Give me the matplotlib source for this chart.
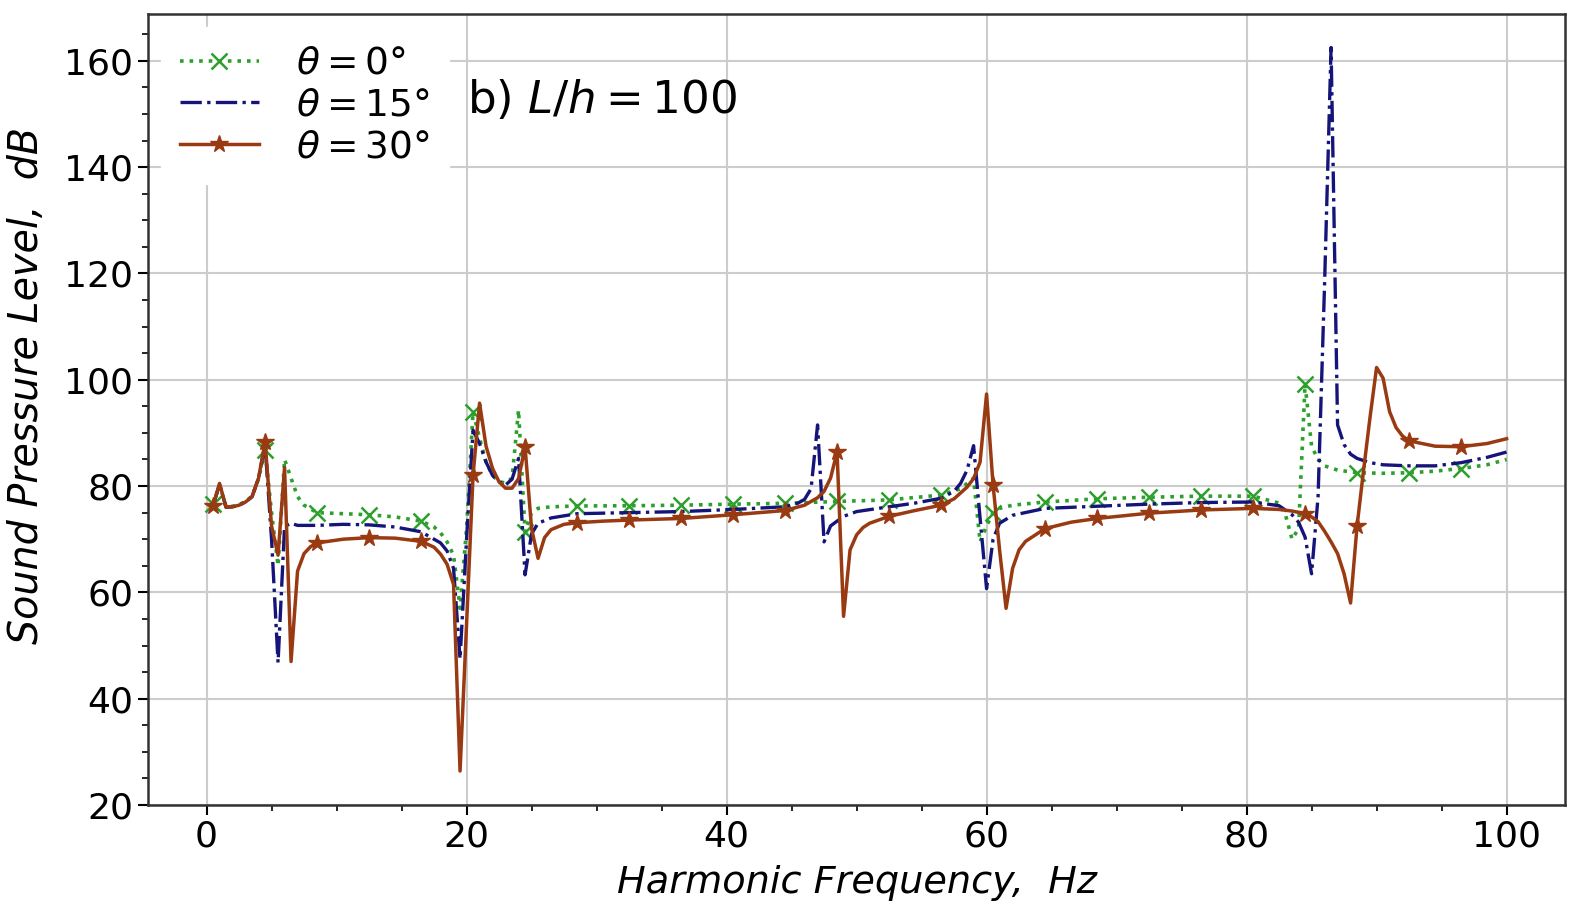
import numpy as np
import matplotlib
matplotlib.use("Agg")
import matplotlib.pyplot as plt
from matplotlib.ticker import AutoMinorLocator, MultipleLocator

# theta = 0 deg
freq_0 = [0.5, 1.0, 1.5, 2.0, 2.5, 3.0, 3.5, 4.0, 4.5, 5.0, 5.5, 6.0, 6.5, 7.0, 7.5,
          8.5, 10.5, 12.5, 14.5, 16.5, 17.5, 18.0, 18.5, 19.0, 19.5, 20.0, 20.5,
          21.0, 21.5, 22.0, 22.5, 23.0, 23.5, 24.0, 24.5, 25.0, 25.5, 26.5, 28.5,
          32.5, 36.5, 40.5, 44.5, 48.5, 52.5, 56.5, 58.0, 59.0, 59.5, 60.0, 60.5,
          61.0, 62.0, 64.5, 68.5, 72.5, 76.5, 80.5, 82.5, 83.0, 83.5, 84.0, 84.5,
          85.0, 85.5, 86.0, 87.0, 88.5, 90.5, 92.5, 94.5, 96.5, 98.5, 100.0]
spl_0 = [76.6, 80.2, 76.1, 76.2, 76.5, 77.1, 78.1, 81.3, 86.8, 75.0, 65.0, 85.0, 81.5, 78.0, 76.4,
         75.0, 74.8, 74.6, 74.2, 73.4, 72.3, 71.2, 69.5, 67.0, 57.0, 72.0, 94.0,
         89.0, 84.5, 82.0, 80.8, 80.6, 81.5, 94.3, 71.4, 75.0, 75.8, 76.1, 76.25,
         76.3, 76.4, 76.6, 76.75, 77.1, 77.4, 78.3, 79.5, 81.5, 69.5, 72.5, 75.0,
         75.8, 76.4, 77.0, 77.6, 77.9, 78.1, 78.1, 76.8, 74.5, 70.0, 72.0, 99.2,
         87.5, 85.0, 83.8, 83.0, 82.5, 82.4, 82.5, 82.8, 83.3, 84.0, 85.0]

# theta = 15 deg
freq_15 = [0.5, 1.0, 1.5, 2.0, 2.5, 3.0, 3.5, 4.0, 4.5, 5.0, 5.5, 6.0, 6.5, 7.0,
           8.5, 10.5, 12.5, 14.5, 16.5, 17.5, 18.0, 18.5, 19.0, 19.5, 20.0, 20.5,
           21.0, 21.5, 22.0, 22.5, 23.0, 23.5, 24.0, 24.5, 25.0, 25.5, 26.5, 28.5,
           32.5, 36.5, 40.5, 44.5, 45.5, 46.0, 46.5, 47.0, 47.5, 48.0, 49.0, 50.0,
           52.5, 54.5, 56.5, 57.5, 58.0, 58.5, 59.0, 59.5, 60.0, 60.5, 61.0, 62.0,
           64.5, 68.5, 72.5, 76.5, 80.5, 82.5, 83.5, 84.0, 84.5, 85.0, 85.5, 86.0,
           86.5, 87.0, 87.5, 88.0, 88.5, 89.5, 90.5, 92.5, 94.5, 96.5, 98.5, 100.0]
spl_15 = [76.3, 80.4, 76.0, 76.1, 76.4, 77.0, 78.0, 81.5, 87.8, 70.0, 46.8, 72.4, 73.0, 72.6,
          72.6, 72.8, 72.7, 72.3, 71.4, 70.0, 69.3, 67.8, 64.5, 47.5, 70.0, 90.5,
          88.0, 84.5, 82.0, 80.8, 80.2, 81.3, 85.2, 63.3, 71.0, 73.0, 74.0, 74.8,
          75.0, 75.2, 75.6, 76.1, 76.8, 77.5, 79.5, 91.5, 69.5, 72.5, 74.3, 75.2,
          76.1, 76.8, 77.7, 79.0, 80.5, 83.0, 87.6, 74.0, 60.7, 70.0, 73.0, 74.5,
          75.8, 76.2, 76.6, 76.9, 77.0, 76.3, 74.6, 73.2, 70.4, 63.5, 78.0, 118.0,
          162.5, 91.5, 87.8, 86.0, 85.2, 84.4, 84.0, 83.8, 83.8, 84.4, 85.4, 86.4]

# theta = 30 deg
freq_30 = [0.5, 1.0, 1.5, 2.0, 2.5, 3.0, 3.5, 4.0, 4.5, 5.0, 5.5, 6.0, 6.5, 7.0, 7.5,
           8.0, 8.5, 10.5, 12.5, 14.5, 16.5, 17.5, 18.0, 18.5, 19.0, 19.5, 20.0,
           20.5, 21.0, 21.5, 22.0, 22.5, 23.0, 23.5, 24.0, 24.5, 25.0, 25.5, 26.0,
           26.5, 27.5, 28.5, 30.5, 32.5, 36.5, 40.5, 44.5, 46.0, 47.0, 47.5, 48.0,
           48.5, 49.0, 49.5, 50.0, 50.5, 51.0, 52.5, 54.5, 56.5, 57.5, 58.5, 59.0,
           59.5, 60.0, 60.5, 61.0, 61.5, 62.0, 62.5, 63.0, 64.5, 66.5, 68.5, 72.5,
           76.5, 80.5, 82.5, 83.5, 84.5, 85.0, 85.5, 86.0, 86.5, 87.0, 87.5, 88.0,
           88.5, 89.0, 89.5, 90.0, 90.5, 91.0, 91.5, 92.0, 92.5, 94.5, 96.5, 98.5, 100.0]
spl_30 = [76.2, 80.5, 76.0, 76.1, 76.4, 77.0, 78.0, 81.5, 88.3, 72.5, 67.0, 83.5, 47.0, 64.0, 67.3,
          68.6, 69.3, 70.0, 70.3, 70.2, 69.6, 68.5, 67.2, 65.3, 61.5, 26.4, 54.0,
          82.0, 95.6, 87.5, 83.3, 80.8, 79.6, 79.6, 81.4, 87.4, 72.0, 66.4, 70.3,
          71.8, 72.8, 73.1, 73.4, 73.6, 73.9, 74.6, 75.4, 76.4, 77.8, 79.0, 81.5,
          86.4, 55.5, 68.0, 70.8, 72.2, 73.0, 74.3, 75.4, 76.4, 77.6, 79.8, 81.4,
          84.5, 97.3, 80.2, 68.0, 57.0, 64.5, 68.0, 69.6, 72.0, 73.2, 73.9, 74.9,
          75.5, 75.8, 75.6, 75.3, 74.8, 74.2, 73.3, 71.5, 69.5, 67.3, 63.5, 58.0,
          72.5, 83.0, 93.0, 102.3, 100.3, 94.0, 91.0, 89.4, 88.5, 87.5, 87.4, 88.0, 88.9]

marker_freqs = [0.5 + 4 * k for k in range(25)]
labels = [r"$\theta = 0\degree$", r"$\theta = 15\degree$", r"$\theta = 30\degree$"]

fig = plt.figure(figsize=(15.75, 9.09), dpi=100)
ax = fig.add_axes([0.094, 0.1144, 0.8997, 0.8702])

mk0 = list(np.where(np.isin(freq_0, marker_freqs))[0])
mk30 = list(np.where(np.isin(freq_30, marker_freqs))[0])

ax.plot(freq_0, spl_0, ls=":", color="#2ca02c", lw=2.6, marker="x", ms=11, mew=1.8,
        markevery=mk0, label=labels[0])
ax.plot(freq_15, spl_15, ls="-.", color="#14147a", lw=2.4, label=labels[1])
ax.plot(freq_30, spl_30, ls="-", color="#993a12", lw=2.5, marker="*", ms=13,
        markevery=mk30, label=labels[2])

ax.set_xlim(-4.5, 104.5)
ax.set_ylim(20, 168.8)
ax.xaxis.set_major_locator(MultipleLocator(20))
ax.yaxis.set_major_locator(MultipleLocator(20))
ax.xaxis.set_minor_locator(AutoMinorLocator(4))
ax.yaxis.set_minor_locator(AutoMinorLocator(4))
ax.grid(True, which="major", color="#cccccc", lw=1.5)
ax.set_axisbelow(True)
ax.tick_params(which="major", labelsize=26, length=7, width=1.5)
ax.tick_params(which="minor", length=4, width=1.2)
for s in ax.spines.values():
    s.set_linewidth(1.8)
    s.set_color("#333333")

ax.set_xlabel("Harmonic Frequency,  Hz", fontsize=27.5, style="italic", labelpad=8)
ax.set_ylabel("Sound Pressure Level,  dB", fontsize=28.5, style="italic")
ax.yaxis.set_label_coords(-0.072, 0.53)

ax.text(20, 152.6, r"b) $L/h = 100$", fontsize=32.5, ha="left", va="center")

leg = ax.legend(loc="upper left", fontsize=27, frameon=True, framealpha=1.0,
                edgecolor="white", borderaxespad=0.35, labelspacing=0.15,
                handlelength=2.1, handletextpad=1.0, borderpad=0.5)

fig.savefig("out.png", dpi=100)
